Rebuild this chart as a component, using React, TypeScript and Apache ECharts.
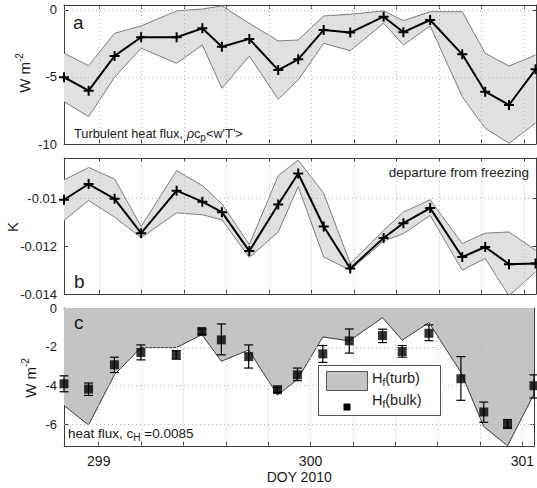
import React, { useEffect, useRef } from 'react';
import * as echarts from 'echarts';

// ---- data ----
const doy = [298.836, 298.952, 299.074, 299.199, 299.366, 299.487, 299.579, 299.708, 299.844, 299.938, 300.058, 300.183, 300.34, 300.433, 300.559, 300.71, 300.818, 300.93, 301.055];

const fluxMean = [-5.02, -6.02, -3.43, -2.04, -2.04, -1.37, -2.74, -2.16, -4.48, -3.68, -1.49, -1.69, -0.5, -1.66, -0.75, -3.31, -6.1, -7.09, -4.43];
const fluxUpper = [-3.23, -4.16, -1.74, -1.19, -0.07, 0.07, 0.3, -1.0, -2.31, -2.24, -0.45, -0.32, -0.07, -0.8, -0.13, -0.13, -3.23, -4.18, -3.36];
const fluxLower = [-6.84, -7.96, -5.02, -2.86, -3.98, -2.61, -5.84, -3.43, -6.66, -5.22, -2.49, -3.04, -0.99, -2.61, -1.19, -6.47, -8.83, -9.95, -8.43];

const tempMean = [-0.01005, -0.00939, -0.01001, -0.01145, -0.00967, -0.01013, -0.01057, -0.0122, -0.01025, -0.00895, -0.01117, -0.01293, -0.01165, -0.01103, -0.0104, -0.01245, -0.01203, -0.01275, -0.01272];
const tempUpper = [-0.00922, -0.0087, -0.00918, -0.01117, -0.00883, -0.00946, -0.01022, -0.01193, -0.00904, -0.00839, -0.00978, -0.01272, -0.01133, -0.01057, -0.01005, -0.01189, -0.01145, -0.0114, -0.01217];
const tempLower = [-0.01092, -0.01008, -0.01078, -0.01164, -0.0106, -0.01068, -0.01089, -0.01247, -0.0114, -0.0095, -0.01245, -0.013, -0.01178, -0.01147, -0.01071, -0.013, -0.01251, -0.01408, -0.01307];

const bulkFlux = [-3.9, -4.17, -2.92, -2.29, -2.41, -1.21, -1.64, -2.5, -4.2, -3.44, -2.36, -1.69, -1.42, -2.24, -1.3, -3.64, -5.35, -6.0, -4.0];
const bulkHigh = [-3.49, -3.86, -2.53, -1.9, -2.19, -1.08, -0.82, -1.9, -4.07, -3.09, -1.93, -1.08, -1.09, -1.93, -0.87, -2.5, -4.84, -5.74, -3.44];
const bulkLow = [-4.31, -4.5, -3.32, -2.67, -2.63, -1.35, -2.41, -3.09, -4.34, -3.74, -2.8, -2.32, -1.78, -2.53, -1.68, -4.75, -5.88, -6.17, -4.63];

const xTicks = [299, 299.2, 299.4, 299.6, 299.8, 300, 300.2, 300.4, 300.6, 300.8, 301];
const xLabels = [299, 300, 301];
const yTicksA = [-10, -5, 0];
const yTicksB = [-0.014, -0.012, -0.01];
const yTicksC = [-6, -4, -2, 0];
const yGridA = [-5, 0];
const yGridB = [-0.012, -0.01];
const yGridC = [-6, -4, -2];

const X_MIN = 298.836;
const X_MAX = 301.057;

const FONT = '"Liberation Sans", Arial, Helvetica, sans-serif';
const AX = '#3c3c3c';
const TXT = '#1a1a1a';

function buildOption() {
  const grids = [
    { left: 64, top: 5, width: 472, height: 139 },
    { left: 64, top: 158, width: 472, height: 136 },
    { left: 64, top: 308, width: 472, height: 138 },
  ];

  const xAxes: any[] = [];
  const yAxes: any[] = [];
  const yRanges = [
    { min: -10, max: 0.37, ticks: yTicksA, fmt: (v: number) => String(Math.round(v)) },
    { min: -0.014, max: -0.0083, ticks: yTicksB, fmt: (v: number) => String(+v.toFixed(3)) },
    { min: -7.1, max: 0, ticks: yTicksC, fmt: (v: number) => String(Math.round(v)) },
  ];
  for (let g = 0; g < 3; g++) {
    for (const pos of ['bottom', 'top']) {
      const withLabels = g === 2 && pos === 'bottom';
      xAxes.push({
        type: 'value', gridIndex: g, position: pos, min: X_MIN, max: X_MAX,
        axisLine: { show: true, onZero: false, lineStyle: { color: AX, width: 1 } },
        axisTick: { show: true, inside: true, length: 4, customValues: xTicks, lineStyle: { color: AX } },
        axisLabel: withLabels
          ? { show: true, customValues: xLabels, formatter: (v: number) => String(Math.round(v)), margin: 8, fontSize: 14, color: TXT, fontFamily: FONT }
          : { show: false },
        splitLine: { show: false },
        name: withLabels ? 'DOY 2010' : '',
        nameLocation: 'middle', nameGap: 24,
        nameTextStyle: { fontSize: 14, color: TXT, fontFamily: FONT },
      });
    }
    const r = yRanges[g];
    for (const pos of ['left', 'right']) {
      const withLabels = pos === 'left';
      yAxes.push({
        type: 'value', gridIndex: g, position: pos, min: r.min, max: r.max,
        axisLine: { show: true, onZero: false, lineStyle: { color: AX, width: 1 } },
        axisTick: { show: true, inside: true, length: 4, customValues: r.ticks, lineStyle: { color: AX } },
        axisLabel: withLabels
          ? { show: true, customValues: r.ticks, formatter: r.fmt, margin: 7, fontSize: 13, lineHeight: 11, color: TXT, fontFamily: FONT }
          : { show: false },
        splitLine: { show: false },
      });
    }
  }

  const gridLines = (ys: number[]) => ({
    silent: true, symbol: ['none', 'none'], label: { show: false }, animation: false,
    lineStyle: { type: [1, 3], color: '#b4b4b4', width: 1 },
    emphasis: { disabled: true },
    data: [...xTicks.map((v) => ({ xAxis: v })), ...ys.map((v) => ({ yAxis: v }))],
  });

  const bandRender = (lower: number[], upper: number[]) => (params: any, api: any) => {
    if (params.dataIndex !== 0) return null;
    const pts: number[][] = [];
    for (let i = 0; i < doy.length; i++) pts.push(api.coord([doy[i], upper[i]]));
    for (let i = doy.length - 1; i >= 0; i--) pts.push(api.coord([doy[i], lower[i]]));
    return { type: 'polygon', shape: { points: pts }, style: { fill: '#e0e0e0', stroke: 'none' } };
  };

  const plus = 'path://M4,0H6V4H10V6H6V10H4V6H0V4H4Z';

  const bandSeries = (axis: number, lower: number[], upper: number[], mean: number[], ys: number[]) => [
    {
      type: 'custom', xAxisIndex: axis * 2, yAxisIndex: axis * 2, clip: true, silent: true, z: 1,
      data: doy.map((t, i) => [t, lower[i], upper[i]]),
      encode: { x: 0, y: [1, 2] },
      renderItem: bandRender(lower, upper),
    },
    {
      type: 'line', xAxisIndex: axis * 2, yAxisIndex: axis * 2, z: 2, silent: true, symbol: 'none', clip: true,
      data: doy.map((t, i) => [t, upper[i]]),
      lineStyle: { color: '#7d7d7d', width: 1 },
      markLine: gridLines(ys),
    },
    {
      type: 'line', xAxisIndex: axis * 2, yAxisIndex: axis * 2, z: 2, silent: true, symbol: 'none', clip: true,
      data: doy.map((t, i) => [t, lower[i]]),
      lineStyle: { color: '#7d7d7d', width: 1 },
    },
    {
      type: 'line', xAxisIndex: axis * 2, yAxisIndex: axis * 2, z: 6, silent: true, clip: false,
      data: doy.map((t, i) => [t, mean[i]]),
      lineStyle: { color: '#000', width: 2 },
      symbol: plus, symbolSize: 10, showAllSymbol: true,
      itemStyle: { color: '#000' },
    },
  ];

  const series: any[] = [
    ...bandSeries(0, fluxLower, fluxUpper, fluxMean, yGridA),
    ...bandSeries(1, tempLower, tempUpper, tempMean, yGridB),
    {
      type: 'line', xAxisIndex: 4, yAxisIndex: 4, z: 1, silent: true, symbol: 'none',
      data: doy.map((t, i) => [t, fluxMean[i]]),
      lineStyle: { color: '#3a3a3a', width: 1 },
      areaStyle: { color: '#c4c4c4', opacity: 1, origin: 'end' },
      markLine: gridLines(yGridC),
    },
    {
      type: 'custom', xAxisIndex: 4, yAxisIndex: 4, z: 6, silent: true,
      data: doy.map((t, i) => [t, bulkLow[i], bulkHigh[i]]),
      encode: { x: 0, y: [1, 2] },
      renderItem: (params: any, api: any) => {
        const t = api.value(0);
        const lo = api.coord([t, api.value(1)]);
        const hi = api.coord([t, api.value(2)]);
        const w = 4.5;
        const st = { stroke: '#000', lineWidth: 1.2 };
        return {
          type: 'group',
          children: [
            { type: 'line', shape: { x1: lo[0], y1: lo[1], x2: hi[0], y2: hi[1] }, style: st },
            { type: 'line', shape: { x1: lo[0] - w, y1: lo[1], x2: lo[0] + w, y2: lo[1] }, style: st },
            { type: 'line', shape: { x1: hi[0] - w, y1: hi[1], x2: hi[0] + w, y2: hi[1] }, style: st },
          ],
        };
      },
    },
    {
      type: 'scatter', xAxisIndex: 4, yAxisIndex: 4, z: 7, silent: true,
      data: doy.map((t, i) => [t, bulkFlux[i]]),
      symbol: 'rect', symbolSize: 9, itemStyle: { color: '#000' },
    },
  ];

  const txt = (x: number, y: number, text: string, extra: any = {}, rich: any = undefined, rotation = 0) => ({
    type: 'text', x, y, z: 100, rotation, silent: true,
    style: { text, fill: TXT, font: `14px ${FONT}`, fontFamily: FONT, fontSize: 14, align: 'left', verticalAlign: 'middle', rich, ...extra },
  });

  const richBase = {
    n: { fontSize: 13.5, fontFamily: FONT, fill: TXT, color: TXT },
    i: { fontSize: 13.5, fontFamily: FONT, fontStyle: 'italic', color: TXT },
    s: { fontSize: 10, fontFamily: FONT, color: TXT, padding: [8, 0, 0, 0] },
  };
  const richTurb = {
    n: { fontSize: 12.8, fontFamily: FONT, color: TXT },
    i: { fontSize: 12.8, fontFamily: FONT, fontStyle: 'italic', color: TXT },
    s: { fontSize: 10, fontFamily: FONT, color: TXT, padding: [8, 0, 0, 0] },
  };
  const richY = {
    n: { fontSize: 15, fontFamily: FONT, color: TXT },
    sup: { fontSize: 10, fontFamily: FONT, color: TXT, padding: [0, 0, 9, 0] },
  };
  const richLeg = {
    n: { fontSize: 14.5, fontFamily: FONT, color: TXT },
    s: { fontSize: 10, fontFamily: FONT, color: TXT, padding: [9, 0, 0, 0] },
  };

  const graphic: any[] = [
    txt(73, 22, 'a', { fontSize: 19, font: `19px ${FONT}` }),
    txt(74, 133, "{n|Turbulent heat flux, }{i|ρ}{n|c}{s|p}{n|<w'T'>}", {}, richTurb),
    txt(529, 172, 'departure from freezing', { align: 'right', fontSize: 13.5, font: `13.5px ${FONT}` }),
    txt(74, 281, 'b', { fontSize: 19, font: `19px ${FONT}` }),
    txt(74, 322, 'c', { fontSize: 19, font: `19px ${FONT}` }),
    txt(68, 433, '{n|heat flux, c}{s|H}{n| =0.0085}', {}, richBase),
    txt(24, 73, '{n|W m}{sup|-2}', { align: 'center' }, richY, Math.PI / 2),
    txt(12, 227, '{n|K}', { align: 'center' }, richY, Math.PI / 2),
    txt(30, 378, '{n|W m}{sup|-2}', { align: 'center' }, richY, Math.PI / 2),
    // legend
    { type: 'rect', z: 100, silent: true, shape: { x: 318.5, y: 365.5, width: 122, height: 50 }, style: { fill: '#fff', stroke: '#555', lineWidth: 1 } },
    { type: 'rect', z: 101, silent: true, shape: { x: 326.5, y: 371.5, width: 41, height: 19 }, style: { fill: '#c4c4c4', stroke: '#555', lineWidth: 1 } },
    { type: 'rect', z: 101, silent: true, shape: { x: 343.5, y: 403.5, width: 7, height: 7 }, style: { fill: '#000' } },
    txt(372, 378, '{n|H}{s|f}{n|(turb)}', {}, richLeg),
    txt(372, 400, '{n|H}{s|f}{n|(bulk)}', {}, richLeg),
  ];

  return {
    animation: false,
    grid: grids,
    xAxis: xAxes,
    yAxis: yAxes,
    series,
    graphic,
  };
}

export default function App() {
  const ref = useRef<HTMLDivElement>(null);
  useEffect(() => {
    const chart = echarts.init(ref.current!, null, { renderer: 'svg' });
    chart.setOption(buildOption() as any);
    return () => chart.dispose();
  }, []);
  return <div ref={ref} style={{ position: 'fixed', left: 0, top: 0, width: 537, height: 488, background: '#fff' }} />;
}
